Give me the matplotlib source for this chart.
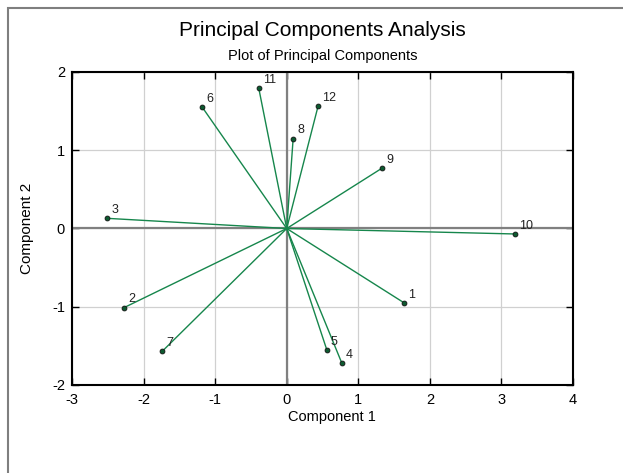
import matplotlib
matplotlib.use("Agg")
import matplotlib.pyplot as plt
from matplotlib.patches import Rectangle

# point labels and their scores on the first two components
labels = ["1", "2", "3", "4", "5", "6", "7", "8", "9", "10", "11", "12"]
comp1 = [1.64, -2.27, -2.51, 0.77, 0.56, -1.18, -1.74, 0.09, 1.33, 3.19, -0.39, 0.44]
comp2 = [-0.95, -1.01, 0.13, -1.72, -1.55, 1.55, -1.57, 1.15, 0.77, -0.07, 1.79, 1.57]

xticks = [-3, -2, -1, 0, 1, 2, 3, 4]
yticks = [-2, -1, 0, 1, 2]

plt.rcParams['font.family'] = ['Liberation Sans', 'DejaVu Sans']
plt.rcParams['axes.unicode_minus'] = False

fig = plt.figure(figsize=(6.23, 4.73), dpi=100)
ax = fig.add_axes([72 / 623, 1 - 385 / 473, 501 / 623, 313 / 473])

# grey frame round the figure (only left and top edges show)
fig.patches.append(Rectangle((8 / 623, -0.1), 1.2, 1 - 8 / 473 + 0.1,
                             transform=fig.transFigure, fill=False,
                             edgecolor='#7f7f7f', linewidth=1.5))

ax.grid(True, color='#d0d0d0', linewidth=0.9)
ax.set_axisbelow(True)
ax.axhline(0, color='#808080', linewidth=1.6, zorder=1)
ax.axvline(0, color='#808080', linewidth=1.6, zorder=1)

for x, y, lab in zip(comp1, comp2, labels):
    ax.plot([0, x], [0, y], color='#16864c', linewidth=1.0, zorder=2)
    ax.annotate(lab, (x, y), xytext=(3, 1.5), textcoords='offset points',
                ha='left', va='bottom', fontsize=9, color='#222222')
ax.plot(comp1, comp2, 'o', markersize=3.5, markerfacecolor='#0d5a30',
        markeredgecolor='#111111', markeredgewidth=0.6, zorder=3)

ax.set_xlim(-3, 4)
ax.set_ylim(-2, 2)
ax.set_xticks(xticks)
ax.set_yticks(yticks)
ax.tick_params(direction='in', length=5, width=1, labelsize=10.5,
               top=True, right=True)
ax.tick_params(axis='x', pad=5.5)
ax.tick_params(axis='y', pad=5)
for s in ax.spines.values():
    s.set_linewidth(1.5)

ax.set_xlabel('Component 1', fontsize=10.5)
ax.xaxis.set_label_coords(0.518, -(417 - 385) / 313, transform=ax.transAxes)
ax.xaxis.label.set_va('center')
ax.set_ylabel('Component 2', fontsize=11)
ax.yaxis.set_label_coords(-(72 - 27.5) / 501, 0.5, transform=ax.transAxes)
ax.yaxis.label.set_va('center')

fig.text(322.5 / 623, 1 - 31 / 473, 'Principal Components Analysis', ha='center',
         va='center', fontsize=15)
fig.text(322.5 / 623, 1 - 56 / 473, 'Plot of Principal Components', ha='center',
         va='center', fontsize=10.5)

fig.savefig('out.png', dpi=100)
